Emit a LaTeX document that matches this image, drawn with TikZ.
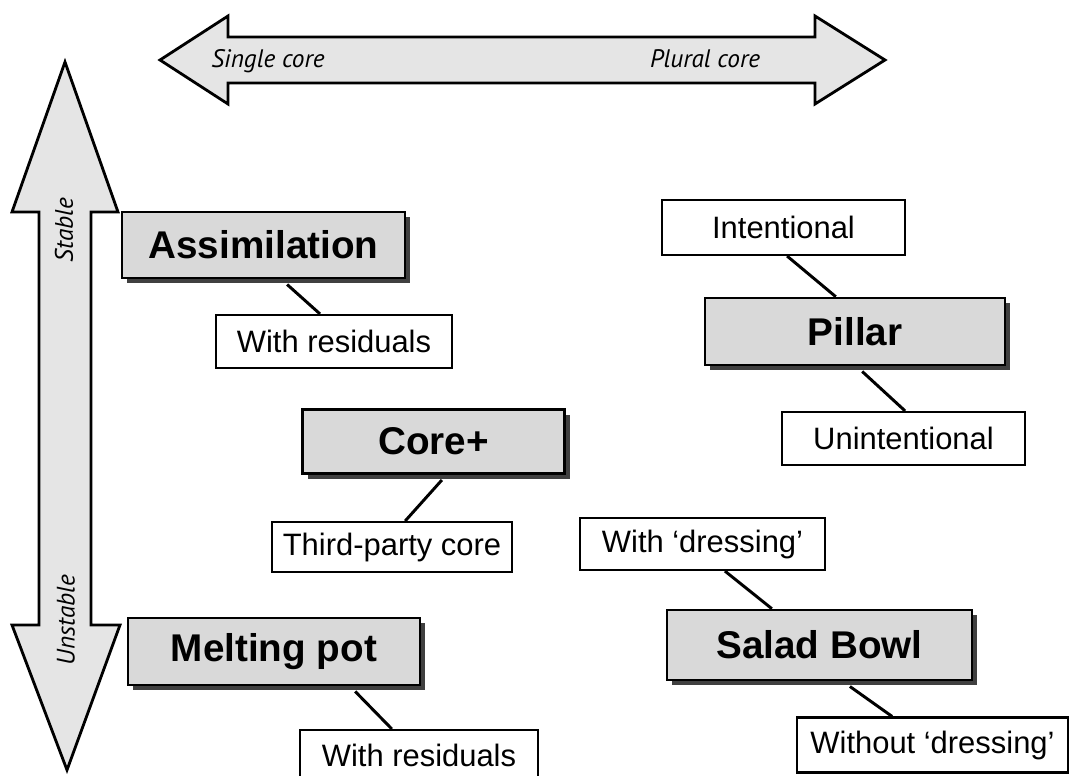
\documentclass[tikz,border=0pt]{standalone}
\usepackage{fontspec}
\setmainfont{Liberation Sans}
\newfontfamily\axisfont{PT Sans}
\usetikzlibrary{shadows}
\begin{document}
\begin{tikzpicture}[x=0.025cm,y=-0.025cm,
  mainbox/.style={draw,line width=1.8pt,fill=gray!30,inner sep=0pt,
    font=\fontsize{27.5}{30}\selectfont\bfseries,
    drop shadow={shadow xshift=0.13cm,shadow yshift=-0.13cm,fill=black!75,opacity=1}},
  subbox/.style={draw,line width=1.5pt,fill=white,inner sep=0pt,
    font=\fontsize{22}{24}\selectfont},
  axistext/.style={font=\axisfont\itshape\fontsize{18}{20}\selectfont},
  link/.style={line width=2.1pt}]
\useasboundingbox (0,0) rectangle (1072,776);
% axes
\draw[line width=2pt,fill=gray!20] (160,60) -- (228,16) -- (228,37) -- (815,37)
  -- (815,16) -- (885,60) -- (815,104) -- (815,83) -- (228,83) -- (228,104) -- cycle;
\draw[line width=2pt,fill=gray!20] (65,62) -- (118,212) -- (91,212) -- (91,625)
  -- (120,625) -- (67,770) -- (12,625) -- (39,625) -- (39,212) -- (12,212) -- cycle;
\node (single) at (268,61) [axistext] {Single core};
\node (plural) at (705,59) [axistext] {Plural core};
\node (stable) at (64,230) [axistext,rotate=90] {Stable};
\node (unstable) at (66,620) [axistext,rotate=90] {Unstable};
% left column
\node (assim) at (263.5,245) [mainbox,minimum width=7.075cm,minimum height=1.65cm] {Assimilation};
\node (res1) at (334,341.5) [subbox,minimum width=5.9cm,minimum height=1.325cm] {With residuals};
\node (core) at (433.5,441.5) [mainbox,minimum width=6.55cm,minimum height=1.6cm] {Core+};
\node (third) at (392,547) [subbox,minimum width=6cm,minimum height=1.25cm] {Third-party core};
\node (melt) at (274,651.5) [mainbox,minimum width=7.3cm,minimum height=1.675cm] {Melting pot};
\node (res2) at (419,755) [subbox,minimum width=5.95cm,minimum height=1.25cm] {With residuals};
% right column
\node (intent) at (783.5,227.5) [subbox,minimum width=6.075cm,minimum height=1.375cm] {Intentional};
\node (pillar) at (855,331.5) [mainbox,minimum width=7.5cm,minimum height=1.675cm] {Pillar};
\node (unint) at (903.5,438.5) [subbox,minimum width=6.075cm,minimum height=1.325cm] {Unintentional};
\node (wdress) at (702.5,544) [subbox,minimum width=6.125cm,minimum height=1.3cm] {With ‘dressing’};
\node (salad) at (819.5,645) [mainbox,minimum width=7.625cm,minimum height=1.75cm] {Salad Bowl};
\node (wodress) at (932.5,745) [subbox,minimum width=6.775cm,minimum height=1.375cm] {Without ‘dressing’};
% links
\draw[link] ([xshift=0.59cm,yshift=-0.13cm]assim.south) -- ([xshift=-0.35cm]res1.north);
\draw[link] ([xshift=0.21cm,yshift=-0.13cm]core.south) -- ([xshift=0.33cm]third.north);
\draw[link] ([xshift=2.03cm,yshift=-0.13cm]melt.south) -- ([xshift=-0.68cm]res2.north);
\draw[link] ([xshift=0.09cm]intent.south) -- ([xshift=-0.48cm]pillar.north);
\draw[link] ([xshift=0.18cm,yshift=-0.13cm]pillar.south) -- ([xshift=0.04cm]unint.north);
\draw[link] ([xshift=0.56cm]wdress.south) -- ([xshift=-1.19cm]salad.north);
\draw[link] ([xshift=0.76cm,yshift=-0.13cm]salad.south) -- ([xshift=-1.01cm]wodress.north);
\end{tikzpicture}
\end{document}
